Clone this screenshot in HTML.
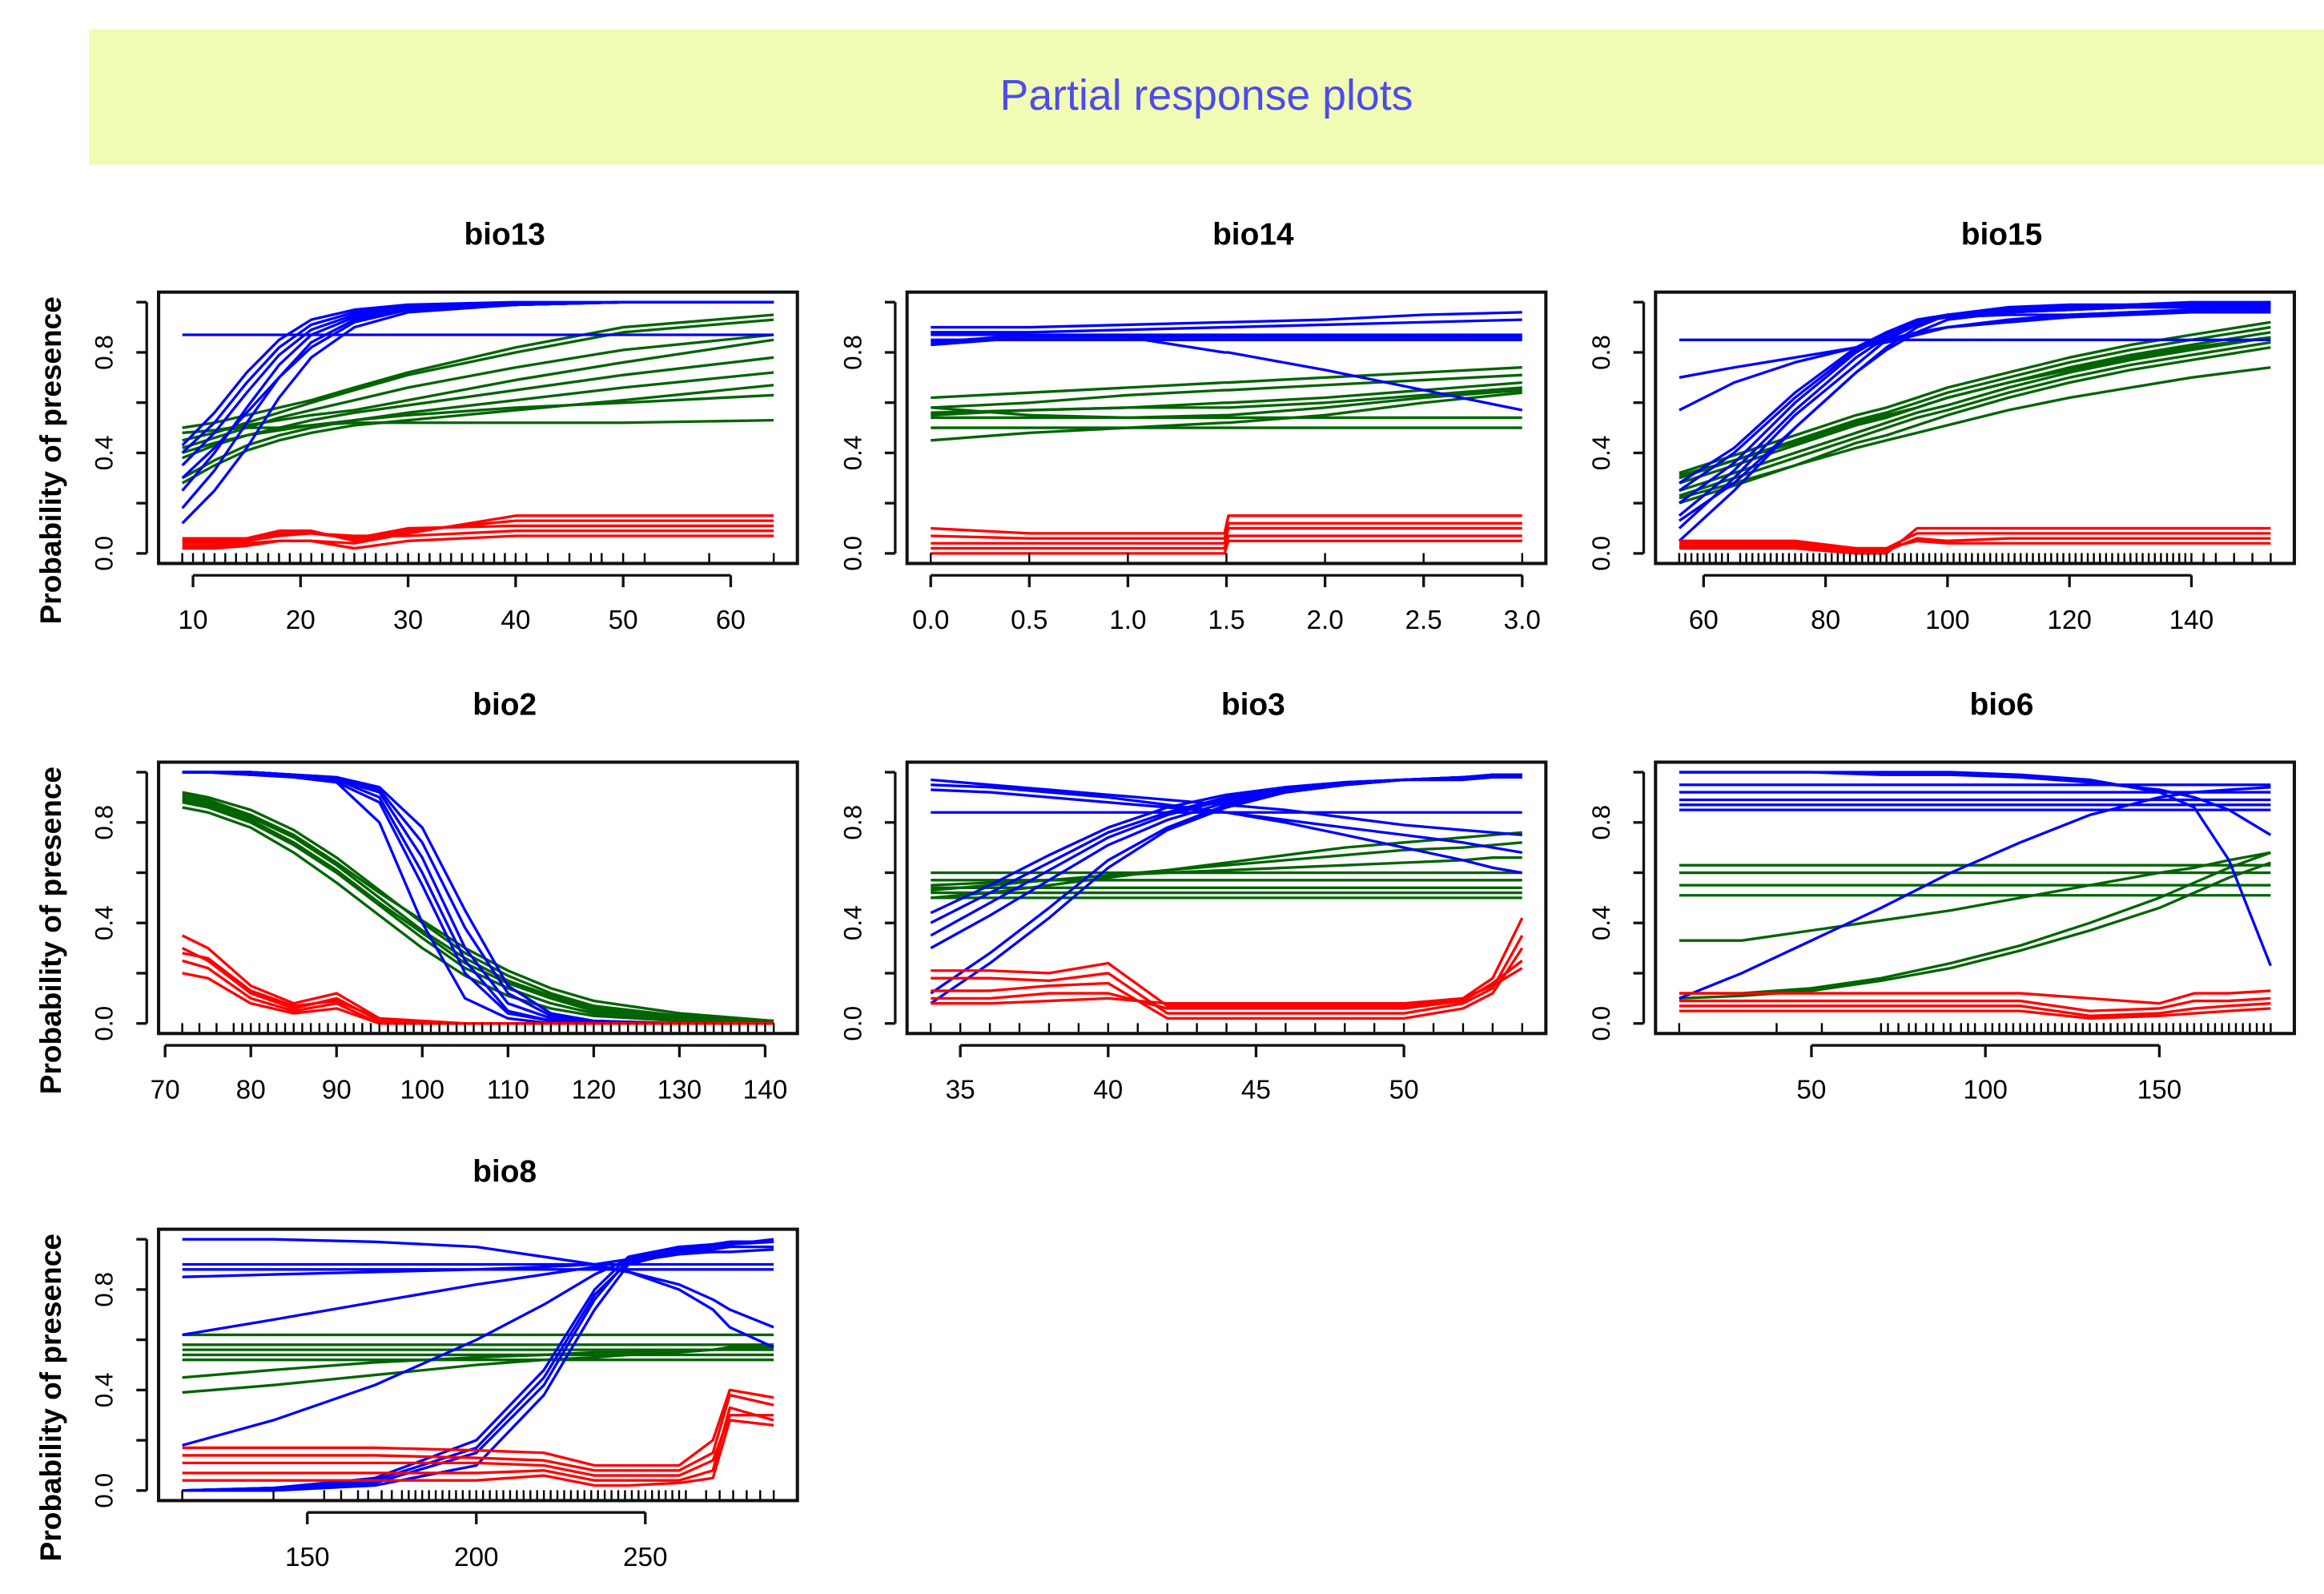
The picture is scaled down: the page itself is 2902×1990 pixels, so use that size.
<!DOCTYPE html>
<html><head><meta charset="utf-8"><title>Partial response plots</title>
<style>
html,body{margin:0;padding:0;background:#fff;}
svg{display:block;}
text{font-family:"Liberation Sans",Arial,sans-serif;}
</style></head>
<body>
<svg id="chart" xmlns="http://www.w3.org/2000/svg" width="2902" height="1990" viewBox="0 0 1568 1075" preserveAspectRatio="none">
<rect x="60" y="20" width="1508" height="91" fill="#f2fbb3"/>
<text x="814" y="74" font-size="29" fill="#4b4bef" text-anchor="middle">Partial response plots</text>
</svg>
<script>
// ---- data ----
const panelNames = ["bio13","bio14","bio15","bio2","bio3","bio6","bio8"];

const bio13_x = [9,12,15,18,21,25,30,40,50,64];
const bio13_ticks = [10,20,30,40,50,60];
const bio13_blue = [
 [0.12,0.25,0.42,0.62,0.78,0.90,0.96,0.99,1,1],
 [0.18,0.33,0.52,0.70,0.84,0.93,0.97,0.99,1,1],
 [0.25,0.40,0.58,0.75,0.87,0.94,0.97,0.99,1,1],
 [0.35,0.48,0.64,0.79,0.89,0.95,0.98,0.99,1,1],
 [0.40,0.52,0.68,0.82,0.91,0.96,0.98,0.99,1,1],
 [0.43,0.56,0.72,0.85,0.93,0.97,0.99,1,1,1],
 [0.30,0.42,0.56,0.70,0.82,0.92,0.97,0.99,1,1],
 [0.87,0.87,0.87,0.87,0.87,0.87,0.87,0.87,0.87,0.87]];
const bio13_green = [
 [0.50,0.52,0.55,0.58,0.61,0.66,0.72,0.82,0.90,0.95],
 [0.45,0.48,0.52,0.56,0.60,0.65,0.71,0.80,0.88,0.93],
 [0.42,0.46,0.50,0.54,0.57,0.61,0.66,0.74,0.81,0.87],
 [0.48,0.49,0.51,0.53,0.55,0.57,0.61,0.69,0.76,0.85],
 [0.38,0.43,0.47,0.50,0.53,0.56,0.59,0.65,0.71,0.78],
 [0.30,0.37,0.43,0.47,0.50,0.53,0.56,0.61,0.66,0.72],
 [0.28,0.35,0.41,0.45,0.48,0.51,0.53,0.57,0.61,0.67],
 [0.48,0.49,0.50,0.50,0.51,0.52,0.52,0.52,0.52,0.53],
 [0.40,0.44,0.47,0.49,0.51,0.53,0.55,0.58,0.60,0.63]];
const bio13_red = [
 [0.02,0.02,0.03,0.05,0.05,0.04,0.08,0.15,0.15,0.15],
 [0.04,0.04,0.05,0.07,0.08,0.06,0.10,0.11,0.11,0.11],
 [0.06,0.06,0.06,0.08,0.08,0.07,0.07,0.09,0.09,0.09],
 [0.03,0.03,0.04,0.05,0.05,0.02,0.05,0.07,0.07,0.07],
 [0.05,0.05,0.06,0.09,0.09,0.05,0.09,0.13,0.13,0.13]];
const bio13_rug = [9,10,11,12,13,14,15,16,17,18,19,20,21,22,23,24,25,26,27,28,29,30,31,32,33,34,35,36,37,38,39,40,41,43,45,47,48,50,52,58,64];

const bio14_x = [0,0.5,1,1.49,1.51,2,2.5,3];
const bio14_ticks = [0,0.5,1,1.5,2,2.5,3];
const bio14_blue = [
 [0.90,0.90,0.91,0.92,0.92,0.93,0.95,0.96],
 [0.88,0.88,0.89,0.90,0.90,0.91,0.92,0.93],
 [0.87,0.87,0.87,0.87,0.87,0.87,0.87,0.87],
 [0.85,0.85,0.85,0.85,0.85,0.85,0.85,0.85],
 [0.83,0.86,0.86,0.86,0.86,0.86,0.86,0.86],
 [0.84,0.87,0.86,0.80,0.80,0.73,0.65,0.57]];
const bio14_green = [
 [0.62,0.64,0.66,0.68,0.68,0.70,0.72,0.74],
 [0.58,0.60,0.63,0.65,0.65,0.67,0.69,0.71],
 [0.55,0.57,0.58,0.60,0.60,0.62,0.65,0.68],
 [0.56,0.57,0.58,0.58,0.58,0.60,0.63,0.66],
 [0.54,0.54,0.54,0.54,0.54,0.54,0.54,0.54],
 [0.50,0.50,0.50,0.50,0.50,0.50,0.50,0.50],
 [0.45,0.48,0.50,0.52,0.52,0.55,0.60,0.64],
 [0.58,0.55,0.54,0.55,0.55,0.58,0.62,0.65]];
const bio14_red = [
 [0.10,0.08,0.08,0.08,0.15,0.15,0.15,0.15],
 [0.07,0.06,0.06,0.06,0.12,0.12,0.12,0.12],
 [0.04,0.04,0.04,0.04,0.10,0.10,0.10,0.10],
 [0.02,0.02,0.02,0.02,0.07,0.07,0.07,0.07],
 [0.00,0.00,0.00,0.00,0.05,0.05,0.05,0.05]];
const bio14_rug = [0,0.5,1,1.5,2,2.5,3];

const bio15_x = [56,65,75,85,90,95,100,110,120,130,140,153];
const bio15_ticks = [60,80,100,120,140];
const bio15_blue = [
 [0.85,0.85,0.85,0.85,0.85,0.85,0.85,0.85,0.85,0.85,0.85,0.85],
 [0.57,0.68,0.76,0.82,0.85,0.88,0.90,0.93,0.95,0.96,0.97,0.98],
 [0.70,0.74,0.78,0.82,0.84,0.87,0.90,0.92,0.94,0.95,0.96,0.97],
 [0.05,0.25,0.50,0.72,0.82,0.90,0.95,0.98,0.99,0.99,1,1],
 [0.10,0.30,0.55,0.75,0.85,0.91,0.95,0.97,0.98,0.99,0.99,1],
 [0.15,0.33,0.57,0.78,0.86,0.92,0.95,0.97,0.98,0.99,0.99,0.99],
 [0.20,0.36,0.60,0.80,0.87,0.92,0.95,0.96,0.97,0.98,0.98,0.98],
 [0.25,0.40,0.62,0.81,0.88,0.93,0.95,0.96,0.97,0.98,0.98,0.98],
 [0.28,0.42,0.64,0.82,0.88,0.92,0.94,0.95,0.95,0.96,0.96,0.96],
 [0.13,0.28,0.50,0.72,0.81,0.88,0.93,0.96,0.97,0.98,0.99,0.99]];
const bio15_green = [
 [0.32,0.39,0.47,0.55,0.58,0.62,0.66,0.72,0.78,0.83,0.87,0.92],
 [0.30,0.37,0.45,0.53,0.56,0.60,0.64,0.70,0.76,0.81,0.85,0.90],
 [0.28,0.35,0.43,0.51,0.54,0.58,0.62,0.68,0.74,0.79,0.83,0.88],
 [0.25,0.32,0.40,0.48,0.52,0.56,0.59,0.66,0.72,0.77,0.81,0.86],
 [0.23,0.30,0.38,0.46,0.50,0.54,0.57,0.64,0.70,0.75,0.79,0.84],
 [0.20,0.27,0.35,0.44,0.47,0.51,0.55,0.62,0.68,0.73,0.77,0.82],
 [0.22,0.28,0.35,0.42,0.45,0.48,0.51,0.57,0.62,0.66,0.70,0.74],
 [0.31,0.37,0.44,0.52,0.55,0.58,0.62,0.68,0.73,0.78,0.82,0.86]];
const bio15_red = [
 [0.05,0.05,0.05,0.02,0.02,0.08,0.08,0.08,0.08,0.08,0.08,0.08],
 [0.03,0.03,0.03,0.01,0.01,0.06,0.05,0.06,0.06,0.06,0.06,0.06],
 [0.02,0.02,0.02,0.00,0.00,0.10,0.10,0.10,0.10,0.10,0.10,0.10],
 [0.04,0.04,0.04,0.02,0.02,0.05,0.04,0.04,0.04,0.04,0.04,0.04]];
const bio15_rug = [56,57,58,59,60,61,62,63,64,66,67,68,69,70,71,72,73,74,75,76,77,78,79,80,81,82,83,84,85,86,87,88,89,90,91,92,93,94,95,96,97,98,99,100,101,102,103,104,105,106,107,108,109,110,111,112,113,114,115,116,117,118,119,120,121,122,123,124,125,126,127,128,129,130,131,132,133,134,135,136,137,138,139,140,142,144,147,150,153];

const bio2_x = [72,75,80,85,90,95,100,105,110,115,120,130,141];
const bio2_ticks = [70,80,90,100,110,120,130,140];
const bio2_blue = [
 [1,1,1,0.99,0.97,0.90,0.60,0.25,0.05,0.01,0,0,0],
 [1,1,1,0.99,0.98,0.93,0.72,0.38,0.12,0.03,0.01,0,0],
 [1,1,0.99,0.98,0.96,0.88,0.55,0.20,0.04,0.01,0,0,0],
 [1,1,1,0.99,0.97,0.92,0.66,0.30,0.08,0.02,0,0,0],
 [1,1,0.99,0.99,0.98,0.94,0.78,0.45,0.15,0.04,0.01,0,0],
 [1,1,1,0.99,0.96,0.80,0.40,0.10,0.02,0,0,0,0]];
const bio2_green = [
 [0.92,0.90,0.85,0.77,0.66,0.53,0.40,0.28,0.19,0.12,0.07,0.03,0.01],
 [0.90,0.88,0.82,0.74,0.63,0.50,0.37,0.26,0.17,0.11,0.06,0.02,0.01],
 [0.88,0.86,0.80,0.71,0.60,0.47,0.34,0.22,0.14,0.08,0.04,0.01,0],
 [0.86,0.84,0.78,0.68,0.56,0.43,0.30,0.19,0.11,0.06,0.03,0.01,0],
 [0.91,0.89,0.83,0.75,0.64,0.52,0.41,0.30,0.21,0.14,0.09,0.04,0.01],
 [0.89,0.87,0.81,0.72,0.61,0.48,0.36,0.24,0.16,0.10,0.05,0.02,0.01]];
const bio2_red = [
 [0.35,0.30,0.15,0.08,0.12,0.02,0.01,0,0,0,0,0,0],
 [0.30,0.25,0.12,0.06,0.10,0.01,0,0,0,0,0,0,0],
 [0.25,0.22,0.10,0.05,0.08,0,0,0,0,0,0,0,0],
 [0.20,0.18,0.08,0.04,0.06,0,0,0,0,0,0,0,0],
 [0.28,0.26,0.13,0.07,0.09,0.02,0,0,0,0,0,0,0]];
const bio2_rug = [72,74,76,78,79,80,81,82,83,84,85,86,87,88,89,90,91,92,93,94,95,96,97,98,99,100,101,102,103,104,105,106,107,108,109,110,111,112,113,114,115,116,117,118,119,120,121,122,123,124,125,126,127,128,129,130,131,132,133,134,135,136,137,138,139,140,141];

const bio3_x = [34,36,38,40,42,44,46,48,50,52,53,54];
const bio3_ticks = [35,40,45,50];
const bio3_blue = [
 [0.40,0.52,0.64,0.76,0.84,0.90,0.94,0.96,0.97,0.98,0.98,0.98],
 [0.35,0.48,0.61,0.74,0.83,0.89,0.93,0.96,0.97,0.98,0.99,0.99],
 [0.30,0.43,0.57,0.71,0.81,0.88,0.92,0.95,0.97,0.98,0.99,0.99],
 [0.12,0.28,0.46,0.65,0.78,0.87,0.92,0.95,0.97,0.98,0.99,0.99],
 [0.08,0.24,0.42,0.62,0.77,0.86,0.92,0.95,0.97,0.98,0.98,0.99],
 [0.44,0.55,0.67,0.78,0.86,0.91,0.94,0.96,0.97,0.97,0.98,0.98],
 [0.97,0.95,0.93,0.91,0.89,0.87,0.85,0.82,0.79,0.77,0.76,0.75],
 [0.93,0.92,0.90,0.88,0.86,0.84,0.81,0.78,0.75,0.72,0.70,0.68],
 [0.95,0.94,0.92,0.90,0.87,0.84,0.80,0.75,0.70,0.65,0.62,0.60],
 [0.84,0.84,0.84,0.84,0.84,0.84,0.84,0.84,0.84,0.84,0.84,0.84]];
const bio3_green = [
 [0.60,0.60,0.60,0.60,0.60,0.60,0.60,0.60,0.60,0.60,0.60,0.60],
 [0.57,0.57,0.57,0.57,0.57,0.57,0.57,0.57,0.57,0.57,0.57,0.57],
 [0.54,0.54,0.54,0.54,0.54,0.54,0.54,0.54,0.54,0.54,0.54,0.54],
 [0.52,0.52,0.52,0.52,0.52,0.52,0.52,0.52,0.52,0.52,0.52,0.52],
 [0.50,0.50,0.50,0.50,0.50,0.50,0.50,0.50,0.50,0.50,0.50,0.50],
 [0.50,0.52,0.55,0.58,0.61,0.64,0.67,0.70,0.72,0.74,0.75,0.76],
 [0.53,0.55,0.57,0.59,0.61,0.63,0.65,0.67,0.69,0.70,0.71,0.72],
 [0.55,0.56,0.57,0.59,0.60,0.61,0.62,0.63,0.64,0.65,0.66,0.66]];
const bio3_red = [
 [0.21,0.21,0.20,0.24,0.07,0.07,0.07,0.07,0.07,0.10,0.18,0.42],
 [0.18,0.18,0.17,0.20,0.04,0.04,0.04,0.04,0.04,0.08,0.14,0.35],
 [0.13,0.13,0.15,0.16,0.02,0.02,0.02,0.02,0.02,0.06,0.12,0.30],
 [0.10,0.10,0.12,0.12,0.06,0.06,0.06,0.06,0.06,0.09,0.16,0.25],
 [0.08,0.08,0.09,0.10,0.08,0.08,0.08,0.08,0.08,0.10,0.15,0.22]];
const bio3_rug = [34,35,36,37,38,39,40,41,42,43,44,45,46,47,48,49,50,51,52,53,54];

const bio6_x = [12,30,50,70,90,110,130,150,160,170,182];
const bio6_ticks = [50,100,150];
const bio6_blue = [
 [0.95,0.95,0.95,0.95,0.95,0.95,0.95,0.95,0.95,0.95,0.95],
 [0.92,0.92,0.92,0.92,0.92,0.92,0.92,0.92,0.92,0.92,0.92],
 [0.89,0.89,0.89,0.89,0.89,0.89,0.89,0.89,0.89,0.89,0.89],
 [0.87,0.87,0.87,0.87,0.87,0.87,0.87,0.87,0.87,0.87,0.87],
 [0.85,0.85,0.85,0.85,0.85,0.85,0.85,0.85,0.85,0.85,0.85],
 [1,1,1,1,1,0.99,0.97,0.92,0.86,0.65,0.23],
 [1,1,1,0.99,0.99,0.98,0.96,0.93,0.90,0.85,0.75],
 [0.10,0.20,0.33,0.46,0.60,0.72,0.83,0.90,0.92,0.93,0.94]];
const bio6_green = [
 [0.63,0.63,0.63,0.63,0.63,0.63,0.63,0.63,0.63,0.63,0.63],
 [0.60,0.60,0.60,0.60,0.60,0.60,0.60,0.60,0.60,0.60,0.60],
 [0.55,0.55,0.55,0.55,0.55,0.55,0.55,0.55,0.55,0.55,0.55],
 [0.51,0.51,0.51,0.51,0.51,0.51,0.51,0.51,0.51,0.51,0.51],
 [0.33,0.33,0.37,0.41,0.45,0.50,0.55,0.60,0.62,0.65,0.68],
 [0.12,0.12,0.14,0.18,0.24,0.31,0.40,0.50,0.56,0.62,0.68],
 [0.10,0.11,0.13,0.17,0.22,0.29,0.37,0.46,0.52,0.58,0.64]];
const bio6_red = [
 [0.12,0.12,0.12,0.12,0.12,0.12,0.10,0.08,0.12,0.12,0.13],
 [0.09,0.09,0.09,0.09,0.09,0.09,0.05,0.06,0.09,0.09,0.10],
 [0.07,0.07,0.07,0.07,0.07,0.07,0.03,0.04,0.06,0.07,0.08],
 [0.05,0.05,0.05,0.05,0.05,0.05,0.02,0.03,0.04,0.05,0.06]];
const bio6_rug = [12,40,53,70,72,75,78,80,83,85,88,90,93,95,97,100,102,104,106,108,110,112,114,116,118,120,122,124,126,128,130,132,134,136,138,140,142,144,146,148,150,152,154,156,158,160,162,164,166,168,170,172,174,176,178,180,182];

const bio8_x = [113,140,170,200,220,235,245,260,270,275,288];
const bio8_ticks = [150,200,250];
const bio8_blue = [
 [1,1,0.99,0.97,0.93,0.90,0.87,0.82,0.76,0.72,0.65],
 [0.85,0.86,0.87,0.88,0.89,0.90,0.92,0.95,0.97,0.98,1.0],
 [0.90,0.90,0.90,0.90,0.90,0.90,0.90,0.90,0.90,0.90,0.90],
 [0.88,0.88,0.88,0.88,0.88,0.88,0.88,0.88,0.88,0.88,0.88],
 [0.62,0.68,0.75,0.82,0.86,0.89,0.87,0.80,0.72,0.65,0.57],
 [0.18,0.28,0.42,0.60,0.74,0.86,0.92,0.95,0.97,0.98,0.99],
 [0,0.01,0.05,0.20,0.48,0.80,0.93,0.97,0.98,0.99,0.99],
 [0,0.01,0.03,0.15,0.42,0.76,0.92,0.96,0.98,0.99,0.99],
 [0,0,0.02,0.10,0.38,0.72,0.90,0.95,0.96,0.97,0.97],
 [0,0.01,0.04,0.17,0.45,0.78,0.91,0.94,0.95,0.95,0.96]];
const bio8_green = [
 [0.62,0.62,0.62,0.62,0.62,0.62,0.62,0.62,0.62,0.62,0.62],
 [0.58,0.58,0.58,0.58,0.58,0.58,0.58,0.58,0.58,0.58,0.58],
 [0.56,0.56,0.56,0.56,0.56,0.56,0.56,0.56,0.56,0.56,0.56],
 [0.54,0.54,0.54,0.54,0.54,0.54,0.54,0.54,0.54,0.54,0.54],
 [0.52,0.52,0.52,0.52,0.52,0.52,0.52,0.52,0.52,0.52,0.52],
 [0.39,0.42,0.46,0.50,0.52,0.53,0.54,0.55,0.56,0.57,0.58],
 [0.45,0.48,0.51,0.53,0.54,0.55,0.55,0.56,0.56,0.57,0.57]];
const bio8_red = [
 [0.17,0.17,0.17,0.16,0.15,0.10,0.10,0.10,0.20,0.40,0.37],
 [0.14,0.14,0.14,0.13,0.12,0.08,0.08,0.08,0.15,0.38,0.34],
 [0.11,0.11,0.11,0.11,0.10,0.06,0.06,0.06,0.12,0.30,0.30],
 [0.07,0.07,0.07,0.07,0.08,0.04,0.04,0.04,0.08,0.33,0.28],
 [0.04,0.04,0.04,0.04,0.06,0.02,0.02,0.03,0.05,0.28,0.26]];
const bio8_rug = [113,140,155,160,165,168,172,175,178,180,182,184,186,188,190,192,194,196,198,200,202,204,206,208,210,212,214,216,218,220,222,224,226,228,230,232,234,236,238,240,242,244,246,248,250,252,254,256,258,260,262,268,272,276,280,284,288];

const yTicks = [0,0.2,0.4,0.6,0.8,1.0];
const yTickLabels = ["0.0","","0.4","","0.8",""];

// ---- drawing ----
const NS = "http://www.w3.org/2000/svg";
const svg = document.getElementById("chart");
const colLeft = [107,612,1117], rowTop = [197,514,829];
const BW = 431, BH = 183;
const COLORS = {blue:"#0000ff", green:"#006400", red:"#ff0000"};
const panels = [
 {name:"bio13", x:bio13_x, ticks:bio13_ticks, blue:bio13_blue, green:bio13_green, red:bio13_red, rug:bio13_rug, dec:0},
 {name:"bio14", x:bio14_x, ticks:bio14_ticks, blue:bio14_blue, green:bio14_green, red:bio14_red, rug:bio14_rug, dec:1},
 {name:"bio15", x:bio15_x, ticks:bio15_ticks, blue:bio15_blue, green:bio15_green, red:bio15_red, rug:bio15_rug, dec:0},
 {name:"bio2", x:bio2_x, ticks:bio2_ticks, blue:bio2_blue, green:bio2_green, red:bio2_red, rug:bio2_rug, dec:0},
 {name:"bio3", x:bio3_x, ticks:bio3_ticks, blue:bio3_blue, green:bio3_green, red:bio3_red, rug:bio3_rug, dec:0},
 {name:"bio6", x:bio6_x, ticks:bio6_ticks, blue:bio6_blue, green:bio6_green, red:bio6_red, rug:bio6_rug, dec:0},
 {name:"bio8", x:bio8_x, ticks:bio8_ticks, blue:bio8_blue, green:bio8_green, red:bio8_red, rug:bio8_rug, dec:0}
];

function mk(tag, attrs, parent){
  const e = document.createElementNS(NS, tag);
  for (const k in attrs) e.setAttribute(k, attrs[k]);
  (parent||svg).appendChild(e);
  return e;
}

panels.forEach((p, i) => {
  const col = i%3;
  const L = colLeft[col], T = rowTop[Math.floor(i/3)];
  const xmin = p.x[0], xmax = p.x[p.x.length-1];
  const pad = (xmax - xmin)*0.04;
  const sx = v => L + (v - (xmin - pad)) / ((xmax - xmin) + 2*pad) * BW;
  const sy = v => T + BH - (v + 0.04) / 1.08 * BH;

  const g = mk("g", {});
  
  

  const title = mk("text", {x: L + BW/2 + 18, y: T - 32, "font-size": 21, "font-weight": "bold", "text-anchor": "middle", fill: "#000"}, g);
  title.textContent = p.name;
  
  

  // series lines
  ["green","blue","red"].forEach(c => {
    p[c].forEach((ys, k) => {
      const pts = ys.map((v, j) => sx(p.x[j]).toFixed(1) + "," + sy(v).toFixed(1)).join(" ");
      const pl = mk("polyline", {points: pts, fill: "none", stroke: COLORS[c], "stroke-width": 1.8, "stroke-linejoin": "round"}, g);
      
      
    });
  });

  // rug
  const rugG = mk("g", {}, g);
  
  
  p.rug.forEach(v => {
    mk("line", {x1: sx(v), x2: sx(v), y1: T + BH - 1, y2: T + BH - 7, stroke: "#000", "stroke-width": 1.3}, rugG);
  });

  // box
  const box = mk("rect", {x: L, y: T, width: BW, height: BH, fill: "none", stroke: "#111", "stroke-width": 2.2}, g);
  
  

  // y axis
  const yax = mk("g", {}, g);
  
  
  mk("line", {x1: L - 8, x2: L - 8, y1: sy(0), y2: sy(1), stroke: "#111", "stroke-width": 1.8}, yax);
  yTicks.forEach((t, k) => {
    mk("line", {x1: L - 8, x2: L - 15, y1: sy(t), y2: sy(t), stroke: "#111", "stroke-width": 1.8}, yax);
    if (yTickLabels[k]) {
      const tx = mk("text", {x: L - 31, y: sy(t), "font-size": 17, "text-anchor": "middle", fill: "#000",
        transform: "rotate(-90 " + (L - 31) + " " + sy(t) + ")"}, yax);
      tx.textContent = yTickLabels[k];
    }
  });
  if (col === 0) {
    const yl = mk("text", {x: L - 66, y: T + BH/2 + 22, "font-size": 20, "font-weight": "bold", "text-anchor": "middle", fill: "#000",
      transform: "rotate(-90 " + (L - 66) + " " + (T + BH/2 + 22) + ")"}, g);
    yl.textContent = "Probability of presence";
    
    
  }

  // x axis
  const xax = mk("g", {}, g);
  
  
  const t0 = p.ticks[0], t1 = p.ticks[p.ticks.length-1];
  mk("line", {x1: sx(t0), x2: sx(t1), y1: T + BH + 8, y2: T + BH + 8, stroke: "#111", "stroke-width": 1.8}, xax);
  p.ticks.forEach(t => {
    mk("line", {x1: sx(t), x2: sx(t), y1: T + BH + 8, y2: T + BH + 16, stroke: "#111", "stroke-width": 1.8}, xax);
    const tx = mk("text", {x: sx(t), y: T + BH + 44, "font-size": 18, "text-anchor": "middle", fill: "#000"}, xax);
    tx.textContent = t.toFixed(p.dec);
  });
});
</script>
</body></html>
